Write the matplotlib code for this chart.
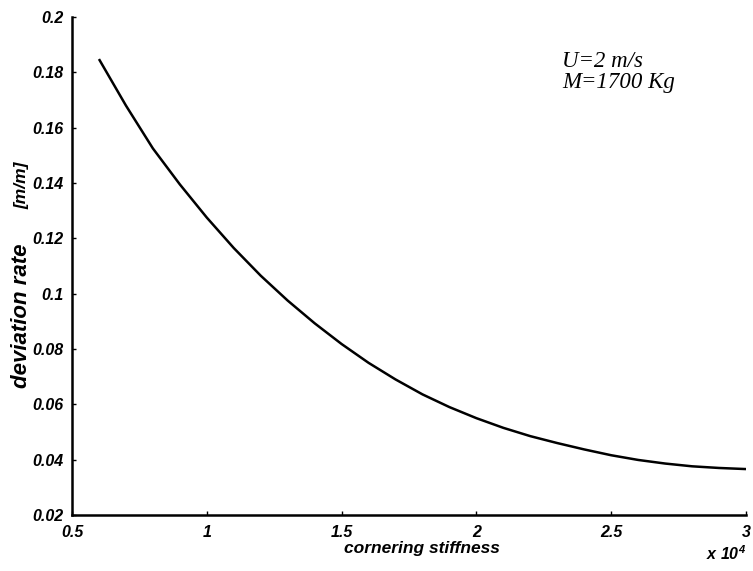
import matplotlib
matplotlib.use("Agg")
import matplotlib.pyplot as plt
from matplotlib.font_manager import FontProperties

# cornering stiffness (x 10^4) and deviation rate [m/m]
stiffness = [0.6, 0.7, 0.8, 0.9, 1.0, 1.1, 1.2, 1.3, 1.4, 1.5, 1.6, 1.7, 1.8,
             1.9, 2.0, 2.1, 2.2, 2.3, 2.4, 2.5, 2.6, 2.7, 2.8, 2.9, 3.0]
deviation = [0.1848, 0.1680, 0.1525, 0.1395, 0.1275, 0.1165, 0.1065, 0.0975, 0.0893,
             0.0818, 0.0750, 0.0690, 0.0636, 0.0590, 0.0550, 0.0515, 0.0485, 0.0460,
             0.0437, 0.0416, 0.0399, 0.0386, 0.0376, 0.0370, 0.0366]

xticks = [0.5, 1, 1.5, 2, 2.5, 3]
xticklabels = ["0.5", "1", "1.5", "2", "2.5", "3"]
yticks = [0.02, 0.04, 0.06, 0.08, 0.1, 0.12, 0.14, 0.16, 0.18, 0.2]
yticklabels = ["0.02", "0.04", "0.06", "0.08", "0.1", "0.12", "0.14", "0.16", "0.18", "0.2"]

W, H = 753, 571
fig = plt.figure(figsize=(W/100, H/100), dpi=100)
ax = fig.add_axes([72/W, 1 - 515/H, (746 - 72)/W, (515 - 17)/H])

ax.plot(stiffness, deviation, color="black", lw=1.8, solid_capstyle="butt")

ax.set_xlim(0.5, 3)
ax.set_ylim(0.02, 0.2)
ax.set_xticks(xticks)
ax.set_xticklabels(xticklabels)
ax.set_yticks(yticks)
ax.set_yticklabels(yticklabels)

tickfp = FontProperties(family="Liberation Sans", weight="bold", style="italic", size=11.5)
for lab in ax.get_xticklabels() + ax.get_yticklabels():
    lab.set_fontproperties(tickfp)

ax.tick_params(direction="in", length=3, width=1, colors="black")
ax.tick_params(axis="x", pad=7)
ax.tick_params(axis="y", pad=6)
for s in ["top", "right"]:
    ax.spines[s].set_visible(False)
for s in ["left", "bottom"]:
    ax.spines[s].set_linewidth(1.8)

lab = dict(family="Liberation Sans", fontweight="bold", fontstyle="italic")
fig.text(422/W, 1 - 553/H, "cornering stiffness", fontsize=12.5, ha="center",
         va="baseline", **lab)
fig.text(22/W, 1 - 316/H, "deviation rate", fontsize=16, rotation=90,
         ha="center", va="center", **lab)
fig.text(22/W, 1 - 185/H, "[m/m]", fontsize=12.5, rotation=90,
         ha="center", va="center", **lab)

fig.text(706/W, 1 - 560/H, r"x 10$^{\mathregular{4}}$", fontsize=11.5,
         ha="left", va="baseline", **lab)

fig.text(562/W, 1 - 88/H, "U=2 m/s\nM=1700 Kg", family="Liberation Serif",
         fontstyle="italic", fontsize=16.5, ha="left", va="baseline", linespacing=1.0)

fig.savefig("out.png", dpi=100, facecolor="white")
